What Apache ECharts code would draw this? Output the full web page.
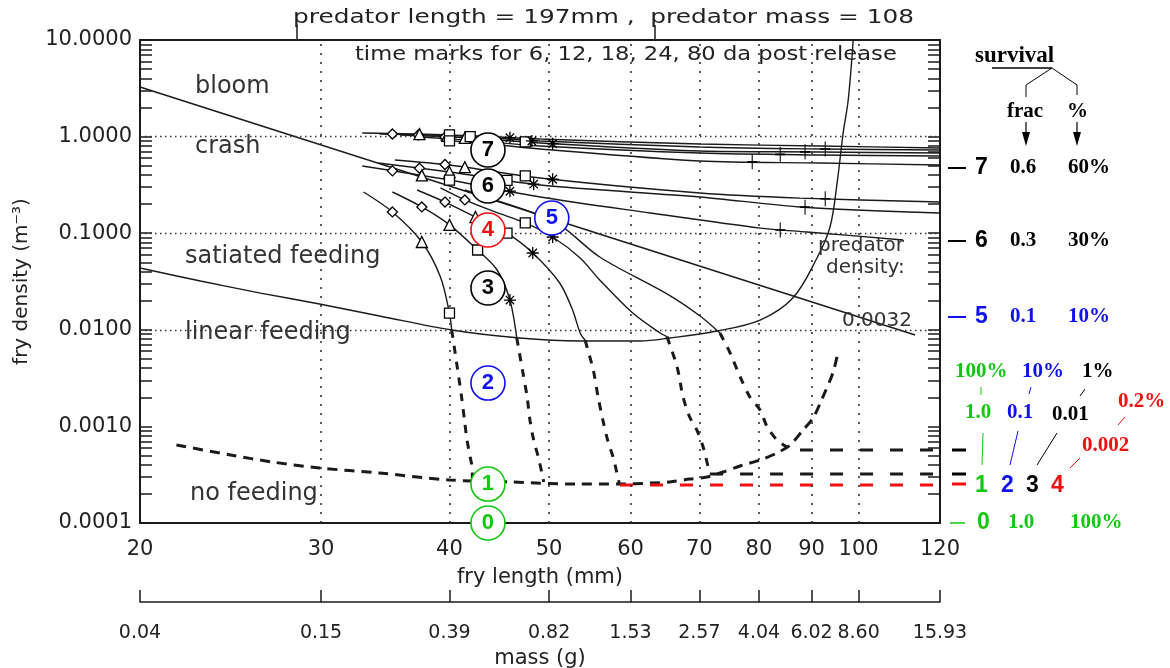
<!DOCTYPE html>
<html>
<head>
<meta charset="utf-8">
<title>fry density vs fry length</title>
<script src="https://cdn.jsdelivr.net/npm/echarts@6/dist/echarts.min.js"></script>
<style>
html, body { margin: 0; padding: 0; background: #fff; }
#main { width: 1170px; height: 668px; }
</style>
</head>
<body>
<div id="main"></div>
<script>
// axes
var lengthTicks = [20, 30, 40, 50, 60, 70, 80, 90, 100, 120];
var massLabels = ['0.04', '0.15', '0.39', '0.82', '1.53', '2.57', '4.04', '6.02', '8.60', '15.93'];
var densityTicks = [0.0001, 0.001, 0.01, 0.1, 1, 10];
var gridLengths = [30, 40, 50, 60, 70, 80, 90, 100];
var gridDensities = [0.001, 0.01, 0.1, 1];
var predatorMarks = [28.4, 63.4];

// boundaries
var densityLine = [[20, 3.26], [113.5, 0.00883]];
var linearFeeding = [[20, 0.0436], [22.9, 0.0320], [26.2, 0.0240], [29.9, 0.0185], [34.2, 0.0139],
  [40.2, 0.00995], [46.8, 0.00822], [53.6, 0.00766], [61.3, 0.00766], [65.5, 0.00822], [72.8, 0.00972],
  [80.2, 0.0126], [86.3, 0.0213], [91.1, 0.0554], [93.8, 0.116], [95.3, 0.331], [96.6, 1.09], [97.7, 2.39], [98.8, 10]];
var noFeeding = [[21.7, 0.000642], [24.5, 0.000506], [26.9, 0.000428], [29.9, 0.000371], [34.2, 0.000329],
  [40.0, 0.000279], [45.8, 0.000266], [53.2, 0.000253], [58.6, 0.000253], [62.7, 0.000259], [65.5, 0.000266],
  [68.5, 0.000285], [71.2, 0.000299], [73.8, 0.000337], [76.7, 0.000389], [80.2, 0.000449], [83.3, 0.000531],
  [85.8, 0.000642], [88.3, 0.000918], [90.3, 0.00122], [92.3, 0.00201], [94.4, 0.00357], [95.5, 0.00589]];
var level4 = [[58.6, 0.000247], [119.2, 0.000247]];
var level3 = [[71.7, 0.000322], [119.2, 0.000322]];
var level2 = [[87.7, 0.00057], [119.2, 0.00057]];

// trajectories
var trajT1 = [[32.9, 1.09], [40.0, 1.04], [49.0, 0.944], [70.1, 0.838], [91.7, 0.799], [120, 0.762]];
var trajT2 = [[34.2, 1.064], [41.0, 1.014], [49.0, 0.901], [70.1, 0.780], [91.7, 0.744], [120, 0.727]];
var trajT3 = [[35.8, 1.039], [41.9, 0.967], [49.0, 0.859], [70.1, 0.709], [91.7, 0.693], [120, 0.676]];
var trajT4 = [[37.4, 0.991], [42.8, 0.901], [49.0, 0.799], [70.1, 0.676], [91.7, 0.645], [120, 0.630]];
var trajT5 = [[39.2, 0.922], [43.8, 0.838], [49.0, 0.744], [70.1, 0.559], [91.7, 0.533], [120, 0.508]];
var trajM1 = [[35.4, 0.573], [40.0, 0.508], [49.0, 0.373], [70.1, 0.261], [87.7, 0.231], [120, 0.210]];
var trajM2 = [[34.1, 0.533], [40.0, 0.430], [49.0, 0.315], [70.1, 0.237], [87.7, 0.187], [120, 0.162]];
var trajM3 = [[32.9, 0.496], [40.0, 0.355], [49.0, 0.237], [62.7, 0.162], [80.2, 0.113], [89.1, 0.103], [110.5, 0.0851]];
var trajH = [[33.0, 0.267], [35.2, 0.166], [37.6, 0.0811], [39.2, 0.0352], [40.0, 0.0149], [40.2, 0.00995]];
var trajI = [[35.2, 0.267], [37.6, 0.187], [40.0, 0.122], [42.6, 0.0670], [44.5, 0.0416], [45.8, 0.0203], [46.5, 0.0083]];
var trajJ = [[37.2, 0.280], [39.6, 0.210], [42.4, 0.147], [45.5, 0.100], [48.2, 0.0624], [51.2, 0.0305], [52.7, 0.0160], [53.6, 0.00927], [54.2, 0.0078]];
var trajK = [[39.2, 0.294], [41.4, 0.221], [44.3, 0.166], [47.4, 0.128], [50.4, 0.0913], [53.6, 0.0554], [56.0, 0.0328], [60.3, 0.0149], [64.1, 0.00927], [65.1, 0.0085]];
var trajL = [[41.4, 0.280], [44.3, 0.221], [47.4, 0.174], [51.2, 0.122], [56.0, 0.0567], [65.1, 0.0235], [70.1, 0.0139], [73.3, 0.00927]];
var tailH = [[40.2, 0.00995], [40.7, 0.00412], [41.1, 0.00201], [41.4, 0.00108], [41.6, 0.000723], [41.9, 0.000482], [42.1, 0.000354], [42.1, 0.000272]];
var tailI = [[46.5, 0.0083], [47.1, 0.00383], [47.6, 0.00201], [47.9, 0.00116], [48.3, 0.000723], [48.8, 0.000482], [49.2, 0.000329], [49.4, 0.000266]];
var tailJ = [[54.2, 0.0078], [55.2, 0.00383], [55.8, 0.00201], [56.4, 0.00116], [57.0, 0.000723], [57.7, 0.000482], [58.2, 0.000329], [58.5, 0.000259]];
var tailK = [[65.1, 0.0085], [66.6, 0.00412], [67.5, 0.00201], [68.5, 0.00125], [69.6, 0.000918], [70.6, 0.000612], [71.4, 0.00038], [71.7, 0.000322]];
var tailL = [[73.3, 0.00927], [75.0, 0.00575], [76.7, 0.00325], [78.4, 0.00201], [80.2, 0.00148], [81.5, 0.000986], [83.3, 0.000723], [85.2, 0.00061]];

// time marks: 6, 12, 18, 24, 80 days
var marks6 = [[35.2, 1.064], [37.3, 1.039], [39.6, 0.991], [35.2, 0.442], [37.4, 0.47], [39.6, 0.514], [35.2, 0.166], [37.6, 0.187], [39.6, 0.210], [41.4, 0.221]];
var marks12 = [[37.4, 1.06], [39.8, 1.02], [41.4, 0.97], [37.6, 0.397], [40.0, 0.430], [41.4, 0.482], [37.6, 0.0811], [40.0, 0.122], [42.4, 0.147]];
var marks18 = [[40.0, 1.04], [41.9, 1.0], [47.4, 0.88], [40.0, 0.905], [40.0, 0.355], [45.5, 0.353], [47.4, 0.393], [40.0, 0.0149], [42.6, 0.067], [45.5, 0.100], [47.4, 0.128]];
var marks24 = [[45.8, 0.975], [48.1, 0.901], [50.4, 0.845], [45.8, 0.272], [48.3, 0.322], [50.4, 0.362], [45.8, 0.0203], [48.2, 0.0624], [50.4, 0.0913]];
var marks80 = [[78.8, 0.548], [83.9, 0.655], [88.7, 0.695], [92.8, 0.744], [92.8, 0.227], [88.7, 0.186], [83.9, 0.108]];

// numbered circles
var circleLabels = ['7', '6', '4', '5', '3', '2', '1', '0'];
var circleLength = [43.6, 43.6, 43.6, 50.3, 43.6, 43.6, 43.6, 43.6];
var circleDensity = [0.727, 0.308, 0.108, 0.1437, 0.0271, 0.00281, 0.000253, 0.0001];

var INK = '#1a1a1a';
var GREEN = '#10c810', BLUE = '#1010f0', RED = '#f01010';
var circleColors = ['#000', '#000', RED, BLUE, '#000', BLUE, GREEN, GREEN];

var yTickValues = [];
densityTicks.forEach(function (d, i) {
    if (i < densityTicks.length - 1) {
        for (var m = 1; m < 10; m++) yTickValues.push(+(d * m).toPrecision(3));
    }
});
yTickValues.push(10);

function solid(data) {
    return {type: 'line', data: data, symbol: 'none', smooth: 0.3, silent: true, z: 3,
        lineStyle: {color: INK, width: 1.4, opacity: 1}};
}
function dashed(data, color, width, dash, smooth) {
    return {type: 'line', data: data, symbol: 'none', smooth: smooth || 0, silent: true, z: 3,
        lineStyle: {color: color, width: width, type: dash, opacity: 1}};
}
function marks(data, symbol, size, fill) {
    return {type: 'scatter', data: data, symbol: symbol, symbolSize: size, silent: true, z: 5,
        itemStyle: {color: fill, borderColor: '#000', borderWidth: 1.3, opacity: 1}};
}

var axisFont = {fontSize: 21, fontFamily: 'DejaVu Sans', color: '#222'};
var frame = {show: true, lineStyle: {color: INK, width: 2}};

var series = [
    {
        type: 'line', data: [], silent: true, z: 1,
        markLine: {
            silent: true, symbol: ['none', 'none'], label: {show: false}, animation: false,
            lineStyle: {color: '#333', width: 1.6, type: [2, 7]},
            data: gridLengths.map(function (v) { return {xAxis: v}; }).concat(
                gridDensities.map(function (v) { return {yAxis: v, lineStyle: {type: [1.5, 3.5], width: 1.4, color: '#333'}}; }))
        }
    },
    dashed(densityLine, INK, 1.4, 'solid'),
    {type: 'line', data: linearFeeding, symbol: 'none', smooth: 0.35, silent: true, z: 3, lineStyle: {color: INK, width: 1.4}},
    dashed(noFeeding, INK, 3, [10, 7], 0.3),
    dashed(tailH, INK, 3, [8, 8], 0.3),
    dashed(tailI, INK, 3, [8, 8], 0.3),
    dashed(tailJ, INK, 3, [8, 8], 0.3),
    dashed(tailK, INK, 3, [8, 8], 0.3),
    dashed(tailL, INK, 3, [8, 8], 0.3),
    dashed(level4, RED, 3, [13, 17]),
    dashed(level3, INK, 3, [13, 17]),
    dashed(level2, INK, 3, [13, 17]),
    solid(trajT1), solid(trajT2), solid(trajT3), solid(trajT4), solid(trajT5),
    solid(trajM1), solid(trajM2), solid(trajM3),
    solid(trajH), solid(trajI), solid(trajJ), solid(trajK), solid(trajL),
    marks(marks6, 'diamond', 10, '#fff'),
    marks(marks12, 'triangle', 11, '#fff'),
    marks(marks18, 'rect', 10, '#fff'),
    marks(marks24, 'path://M6,0L6,12M0,6L12,6M1.8,1.8L10.2,10.2M1.8,10.2L10.2,1.8', 12, 'transparent'),
    marks(marks80, 'path://M5,0L5,14M1,7L9,7', [10, 15], 'transparent'),
    {
        type: 'scatter', clip: false, silent: true, z: 6, symbol: 'circle', symbolSize: 34,
        data: circleLabels.map(function (t, i) {
            return {value: [circleLength[i], circleDensity[i]], name: t,
                itemStyle: {color: '#fff', borderColor: circleColors[i], borderWidth: 1.6, opacity: 1},
                label: {color: circleColors[i]}};
        }),
        label: {show: true, position: 'inside', formatter: '{b}', fontSize: 22, fontWeight: 'bold', fontFamily: 'Liberation Sans', opacity: 1}
    }
];

function T(text, x, y, font, fill, extra) {
    var el = {type: 'text', x: x, y: y, silent: true, z: 10,
        style: {text: text, font: font, fill: fill, textAlign: 'left', textVerticalAlign: 'middle', align: 'left', verticalAlign: 'middle'}};
    for (var k in (extra || {})) el[k] = extra[k];
    return el;
}
function Ln(x1, y1, x2, y2, stroke, w) {
    return {type: 'line', silent: true, z: 10, shape: {x1: x1, y1: y1, x2: x2, y2: y2}, style: {stroke: stroke, lineWidth: w}};
}
function Arrow(x, y1, y2) {
    return [Ln(x, y1, x, y2 - 8, '#000', 1.2),
        {type: 'polygon', silent: true, z: 10, shape: {points: [[x - 4, y2 - 14], [x + 4, y2 - 14], [x, y2]]}, style: {fill: '#000'}}];
}

var LBL = '24px "DejaVu Sans"';
var SMALL = '20px "DejaVu Sans"';
var SERIF = 'bold 21px "Liberation Serif"';
var SANSB = 'bold 23px "Liberation Sans"';
var g = [
    T('predator length = 197mm ,  predator mass = 108', 293, 18, SMALL, '#222', {scaleX: 1.24}),
    T('time marks for 6, 12, 18, 24, 80 da post release', 355, 55, '19px "DejaVu Sans"', '#222', {scaleX: 1.19}),
    T('bloom', 195, 87, LBL, '#333'),
    T('crash', 195, 147, LBL, '#333'),
    T('satiated feeding', 185, 257, LBL, '#333'),
    T('linear feeding', 185, 333, LBL, '#333'),
    T('no feeding', 190, 494, LBL, '#333'),
    T('predator', 818, 246, SMALL, '#333'),
    T('density:', 826, 268, SMALL, '#333'),
    T('0.0032', 842, 321, SMALL, '#333'),
    T('survival', 975, 56, 'bold 23px "Liberation Serif"', '#000'),
    Ln(992, 68, 1052, 68, '#000', 1.5),
    Ln(1052, 68, 1026, 85, '#000', 1), Ln(1026, 85, 1026, 97, '#000', 1),
    Ln(1052, 68, 1077, 85, '#000', 1), Ln(1077, 85, 1077, 95, '#000', 1),
    T('frac', 1007, 112, SERIF, '#000'),
    T('%', 1067, 112, SERIF, '#000')
].concat(Arrow(1026, 122, 146), Arrow(1077, 122, 146));

[['7', '0.6', '60%', 168, '#000'], ['6', '0.3', '30%', 241, '#000'], ['5', '0.1', '10%', 317, BLUE]].forEach(function (r) {
    g.push(Ln(948, r[3], 966, r[3], r[4], 2));
    g.push(T(r[0], 975, r[3], SANSB, r[4]));
    g.push(T(r[1], 1010, r[3], SERIF, r[4]));
    g.push(T(r[2], 1068, r[3], SERIF, r[4]));
});
g.push(Ln(950, 523, 965, 523, GREEN, 1.5), T('0', 977, 523, SANSB, GREEN), T('1.0', 1008, 523, SERIF, GREEN), T('100%', 1070, 523, SERIF, GREEN));
g.push(T('100%', 955, 372, SERIF, GREEN), T('10%', 1022, 372, SERIF, BLUE), T('1%', 1082, 372, SERIF, '#000'), T('0.2%', 1118, 402, SERIF, RED));
g.push(T('1.0', 965, 413, SERIF, GREEN), T('0.1', 1007, 413, SERIF, BLUE), T('0.01', 1052, 415, SERIF, '#000'), T('0.002', 1082, 446, SERIF, RED));
g.push(Ln(981, 387, 981, 395, GREEN, 1), Ln(1031, 387, 1029, 394, BLUE, 1), Ln(1085, 389, 1080, 396, '#000', 1), Ln(1125, 417, 1118, 425, RED, 1));
g.push(Ln(983, 433, 982, 465, GREEN, 1), Ln(1018, 431, 1010, 465, BLUE, 1), Ln(1057, 433, 1037, 465, '#000', 1), Ln(1080, 458, 1070, 468, RED, 1));
g.push(Ln(952, 450, 966, 450, '#000', 3), Ln(952, 474, 966, 474, '#000', 3), Ln(952, 484, 966, 484, RED, 3));
g.push(T('1', 975, 486, SANSB, GREEN), T('2', 1001, 486, SANSB, BLUE), T('3', 1026, 486, SANSB, '#000'), T('4', 1051, 486, SANSB, RED));

var chart = echarts.init(document.getElementById('main'));
chart.setOption({
    animation: false,
    backgroundColor: '#fff',
    grid: [
        {left: 140, top: 40, width: 800, height: 483, outerBoundsMode: 'none', containLabel: false},
        {left: 140, top: 601, width: 800, height: 1, outerBoundsMode: 'none', containLabel: false}
    ],
    xAxis: [
        {gridIndex: 0, type: 'log', logBase: 10, min: 20, max: 120, position: 'bottom',
            axisLine: frame, axisTick: {show: false}, splitLine: {show: false}, minorTick: {show: false},
            axisLabel: {customValues: lengthTicks, margin: 16, fontSize: 21, fontFamily: 'DejaVu Sans', color: '#222'},
            name: 'fry length (mm)', nameLocation: 'middle', nameGap: 44, nameTextStyle: axisFont},
        {gridIndex: 0, type: 'log', logBase: 10, min: 20, max: 120, position: 'top',
            axisLine: frame, splitLine: {show: false}, axisLabel: {show: false},
            axisTick: {show: true, customValues: predatorMarks, inside: false, length: 15, lineStyle: {color: INK, width: 1.5}}},
        {gridIndex: 1, type: 'log', logBase: 10, min: 20, max: 120, position: 'bottom',
            axisLine: {show: true, lineStyle: {color: INK, width: 1.5}}, splitLine: {show: false},
            axisTick: {show: true, customValues: lengthTicks, inside: true, length: 12, lineStyle: {color: INK, width: 1.5}},
            axisLabel: {customValues: lengthTicks, margin: 22, fontSize: 19, fontFamily: 'DejaVu Sans', color: '#222',
                formatter: function (v) {
                    var best = 0;
                    lengthTicks.forEach(function (t, i) { if (Math.abs(t - v) < Math.abs(lengthTicks[best] - v)) best = i; });
                    return massLabels[best];
                }},
            name: 'mass (g)', nameLocation: 'middle', nameGap: 46, nameTextStyle: axisFont}
    ],
    yAxis: [
        {gridIndex: 0, type: 'log', logBase: 10, min: 0.0001, max: 10, position: 'left',
            axisLine: frame, splitLine: {show: false},
            axisTick: {show: true, customValues: yTickValues, inside: true, length: 12, lineStyle: {color: INK, width: 1.5}},
            axisLabel: {customValues: densityTicks, margin: 8, fontSize: 21, fontFamily: 'DejaVu Sans', color: '#222',
                formatter: function (v) { return Number(v).toFixed(4); }},
            name: 'fry density (m\u207B\u00B3)', nameLocation: 'middle', nameGap: 108, nameRotate: 90,
            nameTextStyle: {fontSize: 20, fontFamily: 'DejaVu Sans', color: '#222'}},
        {gridIndex: 0, type: 'log', logBase: 10, min: 0.0001, max: 10, position: 'right',
            axisLine: frame, splitLine: {show: false}, axisLabel: {show: false},
            axisTick: {show: true, customValues: yTickValues, inside: true, length: 12, lineStyle: {color: INK, width: 1.5}}},
        {gridIndex: 1, type: 'value', show: false}
    ],
    graphic: {elements: g},
    series: series
});
</script>
</body>
</html>
